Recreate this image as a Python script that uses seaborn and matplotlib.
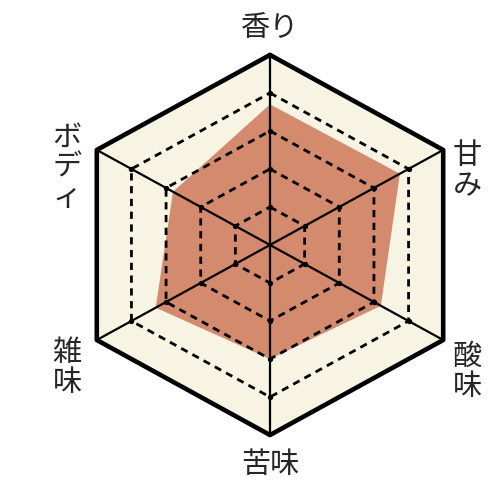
import numpy as np
import pandas as pd
import matplotlib
matplotlib.use("Agg")
import matplotlib.pyplot as plt
import seaborn as sns

# 軸ラベル（上から時計回り）
labels = ['香り', '甘み', '酸味', '苦味', '雑味', 'ボディ']
values = [3.7, 3.75, 3.2, 3.0, 3.3, 2.8]
levels = [1, 2, 3, 4]
max_level = 5

sns.set_theme(style='white')
plt.rcParams['font.family'] = ['Noto Sans CJK JP', 'DejaVu Sans']

angles = np.deg2rad(90 - 60 * np.arange(len(labels)))

def ring(r):
    a = np.append(angles, angles[0])
    return pd.DataFrame({'x': r * np.cos(a), 'y': r * np.sin(a)})

fig = plt.figure(figsize=(5.0, 4.93), dpi=100)
ax = fig.add_axes([0, 0, 1, 1])
ax.set_xlim(-1.35, 1.15)
ax.set_ylim(-1.305, 1.289)
ax.axis('off')

# 背景の六角形
outer = ring(1.0)
ax.fill(outer['x'], outer['y'], color='#f8f4e4', zorder=1)

# データ
vals = np.array(values) / max_level
df = pd.DataFrame({'x': vals * np.cos(angles), 'y': vals * np.sin(angles)})
ax.fill(df['x'], df['y'], color='#d48a6c', zorder=2, linewidth=0)

# 破線の目盛り
for lv in levels:
    r = ring(lv / max_level)
    ax.plot(r['x'], r['y'], color='black', linewidth=2.0,
            linestyle=(0, (2.6, 2.0)), zorder=3)
    ax.scatter(r['x'][:-1], r['y'][:-1], s=8, color='black', zorder=4)

# 放射線
for a in angles:
    ax.plot([0, np.cos(a)], [0, np.sin(a)], color='black', linewidth=1.6, zorder=4)

# 外枠
sns.lineplot(data=outer, x='x', y='y', sort=False, estimator=None, ax=ax,
             color='black', linewidth=3.3, zorder=5)
ax.set_xlabel('')
ax.set_ylabel('')

# ラベル
fs = 21
ax.text(0, 1.142, labels[0], ha='center', va='center', fontsize=fs)
ax.text(0.985, 0.389, '\n'.join(labels[1]), ha='center', va='center', fontsize=fs, linespacing=1.0)
ax.text(0.985, -0.668, '\n'.join(labels[2]), ha='center', va='center', fontsize=fs, linespacing=1.0)
ax.text(0, -1.158, labels[3], ha='center', va='center', fontsize=fs)
ax.text(-1.015, -0.647, '\n'.join(labels[4]), ha='center', va='center', fontsize=fs, linespacing=1.0)
ax.text(-1.017, 0.405, '\n'.join(labels[5]), ha='center', va='center', fontsize=fs, linespacing=1.0)

fig.savefig('out.png', dpi=100, facecolor='white')
